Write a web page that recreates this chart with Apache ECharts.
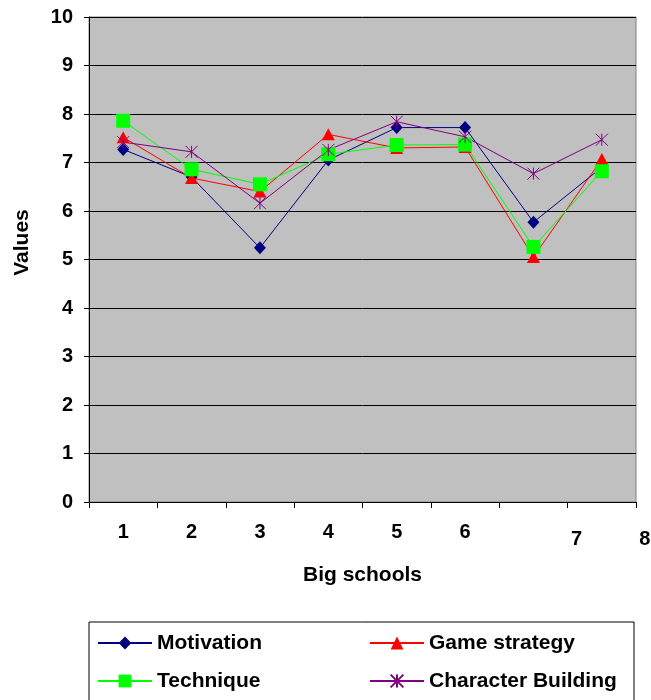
<!DOCTYPE html>
<html>
<head>
<meta charset="utf-8">
<script src="https://cdn.jsdelivr.net/npm/echarts@6/dist/echarts.min.js"></script>
<style>
html,body{margin:0;padding:0;background:#fff;}
#c{width:651px;height:700px;}
</style>
</head>
<body>
<div id="c"></div>
<script>
var categories = ['1','2','3','4','5','6','7','8'];
var motivation = [7.27, 6.70, 5.24, 7.05, 7.72, 7.72, 5.77, 6.90];
var gameStrategy = [7.52, 6.68, 6.40, 7.58, 7.30, 7.32, 5.05, 7.07];
var technique = [7.86, 6.86, 6.55, 7.17, 7.36, 7.37, 5.26, 6.82];
var characterBuilding = [7.42, 7.22, 6.16, 7.26, 7.84, 7.53, 6.77, 7.47];
var seriesNames = ['Motivation', 'Game strategy', 'Technique', 'Character Building'];
var yTicks = {min: 0, max: 10, interval: 1};

var FONT = "'Liberation Sans', Arial, sans-serif";
var chart = echarts.init(document.getElementById('c'), null, {renderer: 'canvas'});

var xData = categories.map(function (c, i) {
  if (i >= 6) {
    return {value: c, textStyle: {padding: [7, 0, 0, 86]}};
  }
  return c;
});

var starPath = 'path://M0,0L10,10M10,0L0,10M5,0L5,10';

function mkSeries(name, data, color, symbol, size, extra) {
  var s = {
    name: name,
    type: 'line',
    data: data,
    symbol: symbol,
    symbolSize: size,
    showAllSymbol: true,
    lineStyle: {color: color, width: 1},
    itemStyle: {color: color},
    animation: false
  };
  if (extra) { for (var k in extra) s[k] = extra[k]; }
  return s;
}

var option = {
  animation: false,
  backgroundColor: '#ffffff',
  textStyle: {fontFamily: FONT},
  grid: {
    left: 89, top: 17, right: 15, bottom: 198,
    containLabel: false,
    outerBoundsMode: 'none',
    show: true, backgroundColor: '#c0c0c0', borderColor: '#808080', borderWidth: 1
  },
  legend: {
    data: seriesNames,
    left: 89, top: 622,
    width: 540,
    orient: 'horizontal',
    padding: [8, 5, 60, 8],
    itemWidth: 54, itemHeight: 16, itemGap: 12,
    borderColor: '#000', borderWidth: 1, backgroundColor: '#fff',
    textStyle: {fontFamily: FONT, fontSize: 21, fontWeight: 'bold', color: '#000', width: 200, lineHeight: 26}
  },
  xAxis: {
    type: 'category',
    data: xData,
    boundaryGap: true,
    name: 'Big schools',
    nameLocation: 'middle',
    nameGap: 63,
    nameTextStyle: {fontFamily: FONT, fontSize: 21, fontWeight: 'bold', color: '#000'},
    axisLine: {lineStyle: {color: '#000', width: 1}},
    axisTick: {show: true, interval: 0, length: 6, lineStyle: {color: '#000'}},
    axisLabel: {interval: 0, margin: 20, fontFamily: FONT, fontSize: 20, fontWeight: 'bold', color: '#000'},
    splitLine: {show: false}
  },
  yAxis: {
    type: 'value',
    min: yTicks.min, max: yTicks.max, interval: yTicks.interval,
    name: 'Values',
    nameLocation: 'middle',
    nameGap: 56,
    nameRotate: 90,
    nameTextStyle: {fontFamily: FONT, fontSize: 21, fontWeight: 'bold', color: '#000', padding: [0, 0, 0, 34]},
    axisLine: {show: true, lineStyle: {color: '#000', width: 1}},
    axisTick: {show: true, length: 5, lineStyle: {color: '#000'}},
    axisLabel: {margin: 16, fontFamily: FONT, fontSize: 20, fontWeight: 'bold', color: '#000'},
    splitLine: {show: true, lineStyle: {color: '#000', width: 1}}
  },
  series: [
    mkSeries('Motivation', motivation, '#000080', 'diamond', [12, 13]),
    mkSeries('Game strategy', gameStrategy, '#ff0000', 'triangle', [13, 12]),
    mkSeries('Technique', technique, '#00ff00', 'rect', 14),
    mkSeries('Character Building', characterBuilding, '#800080', starPath, 12,
      {itemStyle: {color: 'rgba(0,0,0,0)', borderColor: '#800080', borderWidth: 1}})
  ]
};
chart.setOption(option);
</script>
</body>
</html>
